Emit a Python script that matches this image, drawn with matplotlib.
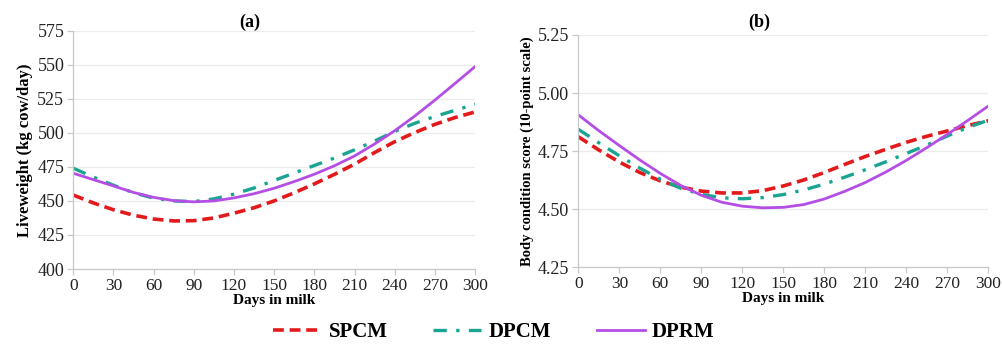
import matplotlib
matplotlib.use("Agg")
import matplotlib.pyplot as plt
from matplotlib.lines import Line2D

days = [0, 15, 30, 45, 60, 75, 90, 105, 120, 135, 150, 165, 180, 195, 210,
        225, 240, 255, 270, 285, 300]

# Panel (a) liveweight, kg
lw_spcm = [454.3, 448.5, 443.5, 439.5, 436.7, 435.3, 435.5, 437.5, 441.0, 445.0,
           450.0, 456.0, 462.5, 469.5, 477.0, 485.5, 493.5, 500.2, 506.2, 511.2, 515.3]
lw_dpcm = [474.0, 467.5, 461.5, 456.0, 452.0, 450.0, 449.5, 451.5, 455.0, 459.5,
           465.0, 470.5, 476.0, 481.5, 487.5, 494.0, 501.0, 507.0, 512.0, 516.5, 521.0]
lw_dprm = [470.3, 465.6, 461.0, 456.2, 452.6, 450.2, 449.3, 450.0, 452.2, 455.3,
           459.3, 464.2, 469.6, 475.8, 483.0, 491.8, 501.5, 512.3, 524.0, 536.2, 548.6]

# Panel (b) body condition score
bcs_spcm = [4.812, 4.755, 4.703, 4.658, 4.622, 4.595, 4.578, 4.570, 4.570, 4.580,
            4.600, 4.626, 4.658, 4.693, 4.727, 4.758, 4.788, 4.814, 4.837, 4.860, 4.881]
bcs_dpcm = [4.844, 4.786, 4.730, 4.677, 4.629, 4.590, 4.564, 4.549, 4.545, 4.550,
            4.563, 4.583, 4.608, 4.638, 4.670, 4.704, 4.740, 4.776, 4.815, 4.852, 4.883]
bcs_dprm = [4.906, 4.838, 4.774, 4.712, 4.654, 4.602, 4.560, 4.530, 4.513, 4.506,
            4.508, 4.520, 4.544, 4.577, 4.615, 4.660, 4.710, 4.765, 4.822, 4.882, 4.944]

series_names = ["SPCM", "DPCM", "DPRM"]
x_ticks = list(range(0, 301, 30))
lw_ticks = [400, 425, 450, 475, 500, 525, 550, 575]
bcs_ticks = [4.25, 4.50, 4.75, 5.00, 5.25]

RED = "#e31a1c"
TEAL = "#1aa592"
PURPLE = "#b44ee4"
styles = [
    dict(color=RED, lw=2.6, linestyle=(0, (3.0, 1.6))),
    dict(color=TEAL, lw=2.4, linestyle=(0, (4.0, 2.8, 1.0, 2.8))),
    dict(color=PURPLE, lw=2.0, linestyle="-"),
]

SERIF = ["Liberation Serif", "DejaVu Serif"]
plt.rcParams["font.family"] = SERIF

fig = plt.figure(figsize=(10.03, 3.44), dpi=100)
ax1 = fig.add_axes([0.0731, 0.218, 0.4005, 0.6928])
ax2 = fig.add_axes([0.5766, 0.2230, 0.4087, 0.6753])


def style_axes(ax, yticks, yfmt):
    for s in ["top", "right"]:
        ax.spines[s].set_visible(False)
    for s in ["left", "bottom"]:
        ax.spines[s].set_color("#c8c8c8")
        ax.spines[s].set_linewidth(0.9)
    ax.set_xlim(0, 300)
    ax.set_xticks(x_ticks)
    ax.set_ylim(yticks[0], yticks[-1])
    ax.set_yticks(yticks)
    ax.set_yticklabels([yfmt.format(v) for v in yticks])
    ax.tick_params(axis="both", colors="#c8c8c8", labelcolor="#222222",
                   length=4, width=0.9, pad=2.5)
    ax.tick_params(axis="x", labelsize=12.5)
    ax.tick_params(axis="y", labelsize=13)
    ax.grid(axis="y", color="#ececec", linewidth=0.9)
    ax.set_axisbelow(True)
    ax.set_xlabel("Days in milk", fontsize=11, fontweight="bold", labelpad=0)


for vals, st in zip([lw_spcm, lw_dpcm, lw_dprm], styles):
    ax1.plot(days, vals, **st)
for vals, st in zip([bcs_spcm, bcs_dpcm, bcs_dprm], styles):
    ax2.plot(days, vals, **st)

style_axes(ax1, lw_ticks, "{:.0f}")
style_axes(ax2, bcs_ticks, "{:.2f}")
ax1.set_ylabel("Liveweight (kg cow/day)", fontsize=12, fontweight="bold", labelpad=3)
ax2.set_ylabel("Body condition score (10-point scale)", fontsize=10.5,
               fontweight="bold", labelpad=3)

fig.text(250 / 1003, 1 - 22 / 344, "(a)", ha="center", va="center",
         fontsize=13, fontweight="bold")
fig.text(759 / 1003, 1 - 22 / 344, "(b)", ha="center", va="center",
         fontsize=13, fontweight="bold")

handles = [Line2D([], [], **st) for st in styles]
fig.legend(handles, series_names, loc="center", bbox_to_anchor=(494 / 1003, 1 - 332 / 344),
           ncol=3, frameon=False, handlelength=2.3, columnspacing=2.2,
           handletextpad=0.35, prop=dict(family=SERIF, weight="bold", size=15))

fig.savefig("out.png", dpi=100)
